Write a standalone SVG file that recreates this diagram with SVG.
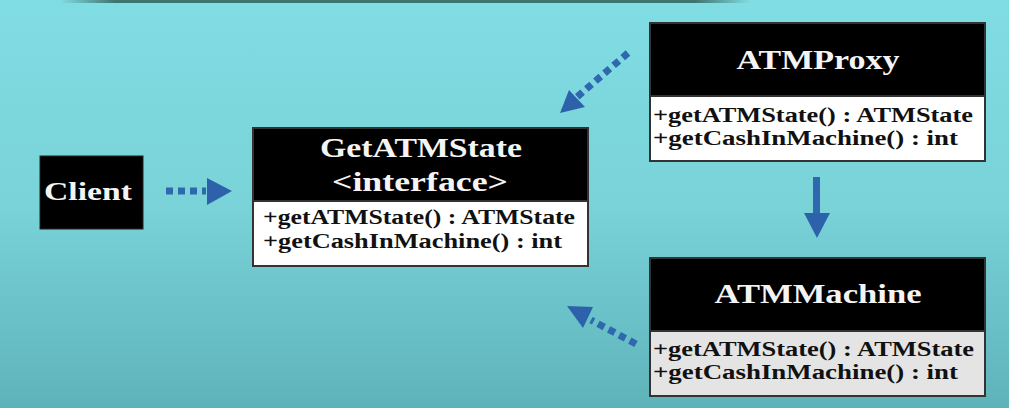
<svg xmlns="http://www.w3.org/2000/svg" width="1009" height="408" viewBox="0 0 1009 408">
<defs>
<linearGradient id="bg" x1="0" y1="0" x2="0" y2="1">
<stop offset="0" stop-color="#80dde3"/>
<stop offset="0.5" stop-color="#79d3d9"/>
<stop offset="1" stop-color="#5eb3b9"/>
</linearGradient>
<linearGradient id="band" x1="0" y1="0" x2="1" y2="0">
<stop offset="0" stop-color="#2d5a52" stop-opacity="0"/>
<stop offset="0.08" stop-color="#2d5a52" stop-opacity="0.8"/>
<stop offset="0.92" stop-color="#2d5a52" stop-opacity="0.8"/>
<stop offset="1" stop-color="#2d5a52" stop-opacity="0"/>
</linearGradient>
</defs>
<style>
.hdr{fill:#000;stroke:#333;stroke-width:2}
.body{fill:#fff;stroke:#333;stroke-width:2}
.body2{fill:#e4e4e4;stroke:#333;stroke-width:2}
.title{fill:#f4f4f4;text-anchor:middle}
.mem{fill:#111;font-size:20px}
.dot{fill:none;stroke:#2f68ae;stroke-width:7;stroke-dasharray:7 5}
.head{fill:#2d62ab}
</style>
<rect x="0" y="0" width="1009" height="408" fill="url(#bg)"/>
<rect x="60" y="0" width="690" height="3" fill="url(#band)"/>

<g id="connectors">
<path class="dot" d="M166,191 L206,191"/>
<polygon class="head" points="207,178 232,191 207,205"/>
<path class="dot" d="M628,53 L577,97"/>
<polygon class="head" points="569,90 585,107 560,113"/>
<path class="dot" d="M636,344 L591,320"/>
<polygon class="head" points="593,307 583,328 567,306"/>
<rect x="813" y="177" width="7" height="37" fill="#2f68ae"/>
<polygon class="head" points="804,213 830,213 817,238"/>
</g>

<g font-family="'Liberation Serif', Tinos, 'Times New Roman', Times, 'Noto Serif', 'DejaVu Serif', FreeSerif, Georgia, serif" font-weight="700">
<g id="client">
<rect x="40" y="156" width="103" height="73" fill="#000" stroke="#222" stroke-width="1"/>
<text class="title" x="88" y="200" font-size="26" textLength="88" lengthAdjust="spacingAndGlyphs">Client</text>
</g>

<g id="getatmstate">
<rect class="hdr" x="253" y="128" width="335" height="73"/>
<rect class="body" x="253" y="201" width="335" height="65"/>
<text class="title" x="421" y="157" font-size="28" textLength="202" lengthAdjust="spacingAndGlyphs">GetATMState</text>
<text class="title" x="420" y="191" font-size="28" textLength="176" lengthAdjust="spacingAndGlyphs">&lt;interface&gt;</text>
<text class="mem" x="263" y="224" textLength="312" lengthAdjust="spacingAndGlyphs">+getATMState() : ATMState</text>
<text class="mem" x="263" y="248" textLength="299" lengthAdjust="spacingAndGlyphs">+getCashInMachine() : int</text>
</g>

<g id="atmproxy">
<rect class="hdr" x="650" y="23" width="335" height="73"/>
<rect class="body" x="650" y="96" width="335" height="65"/>
<text class="title" x="818" y="69" font-size="28" textLength="163" lengthAdjust="spacingAndGlyphs">ATMProxy</text>
<text class="mem" x="653" y="122" textLength="320" lengthAdjust="spacingAndGlyphs">+getATMState() : ATMState</text>
<text class="mem" x="653" y="145" textLength="305" lengthAdjust="spacingAndGlyphs">+getCashInMachine() : int</text>
</g>

<g id="atmmachine">
<rect class="hdr" x="650" y="258" width="335" height="73"/>
<rect class="body2" x="650" y="331" width="335" height="65"/>
<text class="title" x="818" y="303" font-size="28" textLength="207" lengthAdjust="spacingAndGlyphs">ATMMachine</text>
<text class="mem" x="653" y="356" textLength="321" lengthAdjust="spacingAndGlyphs">+getATMState() : ATMState</text>
<text class="mem" x="653" y="379" textLength="305" lengthAdjust="spacingAndGlyphs">+getCashInMachine() : int</text>
</g>
</g>
</svg>
